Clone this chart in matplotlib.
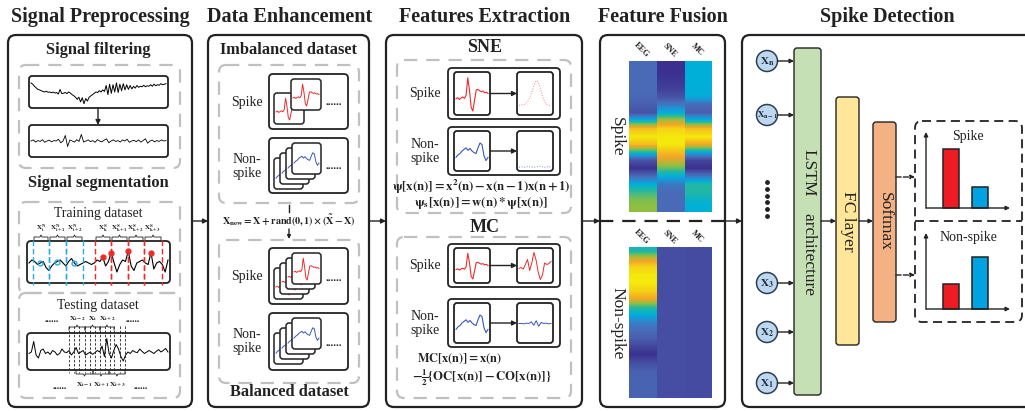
import numpy as np
import matplotlib.pyplot as plt
from matplotlib.patches import FancyBboxPatch, Circle
from matplotlib.colors import LinearSegmentedColormap

plt.rcParams['font.family'] = ['Liberation Serif', 'DejaVu Serif']
plt.rcParams['mathtext.fontset'] = 'stix'

# ---------------- data ----------------
panel_titles = ['Signal Preprocessing', 'Data Enhancement', 'Features Extraction',
                'Feature Fusion', 'Spike Detection']

raw_eeg = [0.85, 0.8, 0.72, 0.66, 0.6, 0.58, 0.55, 0.52, 0.5, 0.53, 0.49, 0.5, 0.47, 0.5, 0.46, 0.48, 0.42, 0.6, 0.44, 0.45,
           0.48, 0.44, 0.5, 0.46, 0.4, 0.36, 0.3, 0.22, 0.3, 0.12, 0.28, 0.05, 0.25, 0.15, 0.3, 0.35, 0.4, 0.45, 0.5, 0.48,
           0.55, 0.5, 0.58, 0.52, 0.75, 0.4, 0.8, 0.45, 0.78, 0.5, 0.85, 0.48, 0.8, 0.55, 0.82, 0.58, 0.78, 0.6, 0.75, 0.62,
           0.72, 0.65, 0.75, 0.68, 0.72, 0.7, 0.76, 0.7, 0.74, 0.72, 0.78, 0.72, 0.8, 0.74, 0.78, 0.76, 0.82, 0.78, 0.8, 0.82]
filt_eeg = [0.5, 0.55, 0.45, 0.52, 0.48, 0.56, 0.44, 0.5, 0.54, 0.46, 0.52, 0.5, 0.58, 0.42, 0.5, 0.75, 0.25, 0.55, 0.5, 0.45,
            0.56, 0.48, 0.8, 0.45, 0.5, 0.55, 0.47, 0.52, 0.44, 0.56, 0.5, 0.46, 0.54, 0.6, 0.42, 0.5, 0.55, 0.48, 0.52, 0.45,
            0.55, 0.5, 0.58, 0.44, 0.5, 0.53, 0.47, 0.55, 0.45, 0.52, 0.6, 0.4, 0.5, 0.54, 0.46, 0.52, 0.48, 0.55, 0.5, 0.52]
train_eeg = [0.5, 0.6, 0.55, 0.45, 0.5, 0.55, 0.35, 0.25, 0.4, 0.5, 0.55, 0.6, 0.5, 0.4, 0.55, 0.65, 0.5, 0.4, 0.45, 0.5,
             0.55, 0.5, 0.45, 0.5, 0.6, 0.55, 0.7, 0.4, 0.55, 0.85, 0.5, 0.2, 0.45, 0.6, 0.55, 0.9, 0.4, 0.25, 0.5, 0.55,
             0.6, 0.5, 0.45, 0.85, 0.3, 0.5, 0.55, 0.45, 0.2, 0.6]
test_eeg = [0.45, 0.5, 0.85, 0.4, 0.3, 0.55, 0.6, 0.45, 0.5, 0.42, 0.55, 0.5, 0.4, 0.45, 0.6, 0.5, 0.48, 0.55, 0.4, 0.5,
            0.65, 0.45, 0.5, 0.55, 0.4, 0.45, 0.5, 0.42, 0.48, 0.55, 0.5, 0.7, 0.35, 0.95, 0.45, 0.3, 0.55, 0.75, 0.6, 0.35,
            0.2, 0.4, 0.5, 0.45, 0.55, 0.5, 0.48, 0.6, 0.52, 0.45, 0.5, 0.55, 0.5, 0.45, 0.52, 0.58, 0.5, 0.55, 0.62, 0.5]

spike_wave = [0.35, 0.38, 0.33, 0.37, 0.4, 0.36, 0.45, 0.95, 0.6, 0.1, 0.0, 0.3, 0.6, 0.62, 0.58, 0.55, 0.57, 0.52, 0.54, 0.5]
nonspike_wave = [0.3, 0.38, 0.42, 0.5, 0.55, 0.6, 0.52, 0.58, 0.5, 0.45, 0.42, 0.6, 0.75, 0.7, 0.35, 0.2, 0.3]
sne_spike = [0.2, 0.22, 0.21, 0.25, 0.3, 0.4, 0.55, 0.72, 0.85, 0.82, 0.65, 0.45, 0.3, 0.22, 0.2, 0.18]
sne_nonspike = [0.05, 0.06, 0.05, 0.07, 0.06, 0.05, 0.06, 0.08, 0.06, 0.05, 0.07, 0.06]
mc_spike = [0.42, 0.45, 0.4, 0.55, 0.72, 0.35, 0.6, 0.95, 0.7, 0.3, 0.05, 0.2, 0.6, 0.55, 0.58, 0.65]
mc_nonspike = [0.5, 0.5, 0.49, 0.51, 0.5, 0.55, 0.45, 0.58, 0.42, 0.53, 0.5, 0.51, 0.49, 0.5]

train_labels_n = [r'X_{i}^{N}', r'X_{i+1}^{N}', r'X_{i+2}^{N}']
train_labels_s = [r'X_{k}^{S}', r'X_{k+1}^{S}', r'X_{k+2}^{S}', r'X_{k+3}^{S}']
test_top_labels = [r'X_{i-2}', r'X_{i}', r'X_{i+2}']
test_bot_labels = [r'X_{i-1}', r'X_{i+1}', r'X_{i+3}']

heat_cols = ['EEG', 'SNE', 'MC']
spike_eeg = [0.25, 0.25, 0.25, 0.25, 0.24, 0.2, 0.15, 0.5, 0.9, 1.0, 0.9, 0.55, 0.15, 0.03, 0.25, 0.47, 0.6, 0.68, 0.7]
spike_sne = [0.03, 0.03, 0.05, 0.08, 0.15, 0.3, 0.47, 0.75, 0.95, 1.0, 1.0, 0.9, 0.8, 0.65, 0.47, 0.3, 0.25, 0.25, 0.25]
spike_mc = [0.47, 0.47, 0.47, 0.47, 0.45, 0.25, 0.2, 0.5, 0.9, 1.0, 0.85, 0.45, 0.1, 0.03, 0.3, 0.57, 0.57, 0.5, 0.47]
nons_eeg = [0.55, 0.8, 0.95, 1.0, 1.0, 0.95, 0.85, 0.6, 0.47, 0.32, 0.25, 0.2, 0.1, 0.03, 0.12, 0.2, 0.22, 0.22, 0.22]
nons_sne = [0.13, 0.13, 0.13, 0.13, 0.13, 0.13, 0.13, 0.13, 0.13, 0.13, 0.13, 0.13, 0.13, 0.13, 0.13, 0.13, 0.13, 0.13, 0.13]
nons_mc = [0.12, 0.12, 0.12, 0.12, 0.12, 0.12, 0.12, 0.12, 0.12, 0.12, 0.12, 0.12, 0.12, 0.12, 0.12, 0.12, 0.12, 0.12, 0.12]

input_labels = [r'X_{n}', r'X_{n-1}', r'X_{3}', r'X_{2}', r'X_{1}']
spike_probs = [0.85, 0.3]
nonspike_probs = [0.36, 0.74]

# ---------------- styles ----------------
DARK = '#222222'
GRAY = '#c0c0c0'
RED = '#ee2a2a'
BLUE = '#3a56c0'
CYAN = '#29abe2'
heat_cmap = LinearSegmentedColormap.from_list('muted_parula', [
    (0.00, (0.22, 0.16, 0.55)), (0.12, (0.27, 0.30, 0.63)), (0.25, (0.29, 0.42, 0.72)),
    (0.40, (0.10, 0.60, 0.85)), (0.47, (0.00, 0.69, 0.85)), (0.57, (0.13, 0.72, 0.65)),
    (0.70, (0.56, 0.75, 0.25)), (0.85, (0.96, 0.65, 0.15)), (1.00, (0.96, 0.91, 0.05))])

fig = plt.figure(figsize=(10.25, 4.11), dpi=100)
ax = fig.add_axes([0, 0, 1, 1])
ax.set_xlim(0, 1025)
ax.set_ylim(411, 0)
ax.axis('off')


def rbox(x0, y0, x1, y1, r=4, ec=DARK, lw=1.3, ls='-', fc='none', z=2):
    p = FancyBboxPatch((x0, y0), x1 - x0, y1 - y0, boxstyle=f'round,pad=0,rounding_size={r}',
                       ec=ec, fc=fc, lw=lw, ls=ls, zorder=z)
    ax.add_patch(p)


def gbox(x0, y0, x1, y1):
    rbox(x0, y0, x1, y1, r=7, ec=GRAY, lw=1.6, ls=(0, (6, 4)), z=1)


def trace(vals, x0, y0, x1, y1, color='k', lw=0.8, ls='-', z=3):
    v = np.asarray(vals)
    xs = np.linspace(x0, x1, len(v))
    ys = y1 - v * (y1 - y0)
    ax.plot(xs, ys, color=color, lw=lw, ls=ls, zorder=z)
    return xs, ys


def arrow(x0, y0, x1, y1, ls='-', lw=1.0, ms=7):
    ax.annotate('', xy=(x1, y1), xytext=(x0, y0),
                arrowprops=dict(arrowstyle='-|>', color=DARK, lw=lw, ls=ls,
                                mutation_scale=ms, shrinkA=0, shrinkB=0), zorder=6)


def stack(xf, yf, w, h, n, dx, dy, vals, color, z0=10):
    for k in range(n - 1, -1, -1):
        x = xf - k * dx
        y = yf + k * dy
        z = z0 + 2 * (n - k)
        rbox(x, y, x + w, y + h, r=3, fc='white', lw=1.1, z=z)
        trace(vals, x + 2, y + 4, x + w - 2, y + h - 4, color, 0.7, z=z + 1)


def brace(x0, x1, y, up=True):
    s = -1 if up else 1
    xm = (x0 + x1) / 2
    ax.plot([x0, x0, xm - 1, xm, xm + 1, x1, x1],
            [y - s * 3, y, y, y + s * 2, y, y, y - s * 3], color=DARK, lw=0.6, zorder=4)


def title(x, s):
    ax.text(x, 17, s, ha='center', va='center', fontsize=14.5, fontweight='bold', color=DARK)


def sub(x, y, s, fs=11.8):
    ax.text(x, y, s, ha='center', va='center', fontsize=fs, fontweight='bold', color=DARK)


def lab(x, y, s, fs=10, **kw):
    ax.text(x, y, s, ha='center', va='center', fontsize=fs, color=DARK, linespacing=1.1, **kw)


# ---------------- panel frames ----------------
frames = [(8, 192), (208, 369), (386, 582), (600, 725), (742, 1040)]
centers = [100, 290, 485, 663, 887]
for (x0, x1), c, t in zip(frames, centers, panel_titles):
    rbox(x0, 35, x1, 407, r=8, lw=1.6)
    title(c, t)
for a, b in [(192, 208), (369, 386), (582, 600), (725, 742)]:
    arrow(a, 221, b, 221)

# ---------------- Signal Preprocessing ----------------
sub(98, 50, 'Signal filtering')
gbox(19, 65, 180, 168)
rbox(29, 76, 168, 108, r=3)
trace(raw_eeg, 31, 79, 166, 105, 'k', 0.7)
arrow(98, 108, 98, 125)
rbox(29, 125, 168, 157, r=3)
trace(filt_eeg, 31, 130, 166, 152, 'k', 0.6)

sub(98, 183, 'Signal segmentation')
gbox(19, 202, 180, 293)
gbox(19, 293, 180, 398)
lab(98, 213, 'Training dataset', fs=9.8)
rbox(27, 241, 170, 283, r=4)
xs, ys = trace(train_eeg, 29, 248, 168, 278, 'k', 0.8)
blue_segs = [(33, 49), (49, 66), (66, 83)]
red_segs = [(95, 111), (111, 128), (128, 144), (144, 162)]
for (a, b), t in zip(blue_segs, train_labels_n):
    ax.plot([a, a], [240, 285], color=CYAN, lw=1.0, ls=(0, (4, 2)), zorder=4)
    ax.plot([b, b], [240, 285], color=CYAN, lw=1.0, ls=(0, (4, 2)), zorder=4)
    brace(a + 1, b - 1, 237)
    ax.text((a + b) / 2, 228, rf'$\mathbf{{{t}}}$', ha='center', va='center', fontsize=5, color=DARK)
    i = np.argmin(np.abs(xs - (a + b) / 2))
    ax.plot(xs[i], ys[i], 'o', ms=3.5, mfc='none', mec=CYAN, mew=1.0, zorder=5)
for (a, b), t in zip(red_segs, train_labels_s):
    ax.plot([a, a], [240, 285], color=RED, lw=1.0, ls=(0, (4, 2)), zorder=4)
    ax.plot([b, b], [240, 285], color=RED, lw=1.0, ls=(0, (4, 2)), zorder=4)
    brace(a + 1, b - 1, 237)
    ax.text((a + b) / 2, 228, rf'$\mathbf{{{t}}}$', ha='center', va='center', fontsize=5, color=DARK)
    m = np.where((xs > a) & (xs < b))[0]
    i = m[np.argmin(ys[m])]
    ax.plot(xs[i], ys[i], 'o', ms=3.5, color=RED, zorder=5)

lab(98, 305, 'Testing dataset', fs=9.8)
rbox(27, 333, 170, 370, r=4)
trace(test_eeg, 29, 337, 168, 367, 'k', 0.7)
for xv in [69, 74, 79, 85, 90, 95, 100, 105, 110, 114, 120, 125]:
    ax.plot([xv, xv], [326, 373], color=DARK, lw=0.6, ls=(0, (3, 2)), zorder=4)
for (a, b), t in zip([(69, 85), (85, 100), (100, 114)], test_top_labels):
    brace(a, b, 327)
    ax.text((a + b) / 2, 319, rf'$\mathbf{{{t}}}$', ha='center', va='center', fontsize=5.4, color=DARK)
for (a, b), t in zip([(76, 93), (93, 109), (109, 125)], test_bot_labels):
    brace(a, b, 374, up=False)
    ax.text((a + b) / 2, 385, rf'$\mathbf{{{t}}}$', ha='center', va='center', fontsize=5.4, color=DARK)
for xv, yv in [(52, 319), (133, 319), (60, 386), (141, 386)]:
    lab(xv, yv, '......', fs=7, fontweight='bold')

# ---------------- Data Enhancement ----------------
sub(289, 50, 'Imbalanced dataset')
gbox(219, 65, 359, 203)
rbox(269, 74, 348, 129, r=4)
stack(291, 79, 30, 31, 2, 17, 14, spike_wave, RED)
lab(247, 102, 'Spike')
lab(334, 102, '......', fs=8, fontweight='bold')
rbox(269, 138, 348, 193, r=4)
stack(292, 143, 29, 31, 4, 6, 5, nonspike_wave, BLUE)
lab(247, 166, 'Non-\nspike')
lab(334, 166, '......', fs=8, fontweight='bold')

ax.plot([289, 289], [205, 212], color=DARK, lw=1.0)
ax.text(289, 220, r'$\mathbf{X_{new} = X + rand(0,1)\times(\tilde{X} - X)}$',
        ha='center', va='center', fontsize=7.3, color=DARK)
arrow(289, 229, 289, 239, ms=5)

gbox(219, 240, 359, 383)
rbox(269, 248, 348, 304, r=4)
stack(292, 253, 29, 31, 4, 6, 5, spike_wave, RED)
lab(247, 276, 'Spike')
lab(334, 278, '......', fs=8, fontweight='bold')
rbox(269, 313, 348, 370, r=4)
stack(292, 318, 29, 31, 4, 6, 5, nonspike_wave, BLUE)
lab(247, 341, 'Non-\nspike')
lab(334, 343, '......', fs=8, fontweight='bold')
sub(289, 392, 'Balanced dataset')

# ---------------- Features Extraction ----------------
sub(485, 47, 'SNE', fs=13)
gbox(397, 60, 571, 213)
sub(485, 227, 'MC', fs=13)
gbox(397, 237, 571, 398)

rows = [(68, 119, spike_wave, sne_spike, RED, ':', 'Spike'),
        (127, 175, nonspike_wave, sne_nonspike, BLUE, ':', 'Non-\nspike'),
        (244, 287, spike_wave, mc_spike, RED, '-', 'Spike'),
        (299, 347, nonspike_wave, mc_nonspike, BLUE, '-', 'Non-\nspike')]
for y0, y1, w_in, w_out, col, ls, name in rows:
    rbox(448, y0, 560, y1, r=4)
    rbox(454, y0 + 4, 490, y1 - 4, r=3)
    rbox(517, y0 + 4, 553, y1 - 4, r=3)
    trace(w_in, 456, y0 + 8, 488, y1 - 8, col, 0.8)
    trace(w_out, 519, y0 + 7, 551, y1 - 6, col if ls == '-' else ('#ff8080' if col == RED else '#6f86d8'), 0.7, ls)
    arrow(490, (y0 + y1) / 2, 517, (y0 + y1) / 2)
    lab(425, (y0 + y1) / 2, name)

ax.text(481, 186.5, r'$\mathbf{\psi[x(n)] = x^2(n) - x(n-1)x(n+1)}$', ha='center', va='center', fontsize=9.2, color=DARK)
ax.text(481, 203, r'$\mathbf{\psi_s[x(n)] = w(n) * \psi[x(n)]}$', ha='center', va='center', fontsize=9.2, color=DARK)
ax.text(417, 359, r'$\mathbf{MC[x(n)] = x(n)}$', ha='left', va='center', fontsize=8.8, color=DARK)
ax.text(412, 378, r'$\mathbf{-\frac{1}{2}\{OC[x(n)] - CO[x(n)]\}}$', ha='left', va='center', fontsize=9.2, color=DARK)

# ---------------- Feature Fusion ----------------
col_x = [629, 657, 685, 712]
for cols, y0, y1, ly, name in [((spike_eeg, spike_sne, spike_mc), 62, 212, 50, 'Spike'),
                               ((nons_eeg, nons_sne, nons_mc), 248, 398, 237, 'Non-spike')]:
    for k, vals in enumerate(cols):
        img = np.column_stack([vals, vals])
        ax.imshow(img, cmap=heat_cmap, vmin=0, vmax=1, aspect='auto', interpolation='bilinear',
                  extent=(col_x[k], col_x[k + 1], y1, y0), zorder=2)
        ax.text((col_x[k] + col_x[k + 1]) / 2 - 1, ly, heat_cols[k], rotation=-45, ha='center', va='center',
                fontsize=6, fontweight='bold', color=DARK)
    lab(617, (y0 + y1) / 2, name, fs=12.5, rotation=270)
ax.plot([600, 725], [221, 221], color=DARK, lw=1.6, ls=(0, (6, 4)), zorder=3)

# ---------------- Spike Detection ----------------
circle_y = [61, 115, 283, 332, 383]
for cy, t in zip(circle_y, input_labels):
    ax.add_patch(Circle((767, cy), 10.5, fc='#bdd7ee', ec='#2e3f55', lw=1.1, zorder=4))
    ax.text(767, cy + 0.5, rf'$\mathbf{{{t}}}$', ha='center', va='center',
            fontsize=6.3 if len(t) > 5 else 8, color='#1f2d40', zorder=5)
    arrow(777.5, cy, 794, cy, ms=6)
ax.scatter(np.full(6, 767), np.linspace(182, 216, 6), s=6, color=DARK, zorder=4)

rbox(794, 48, 821, 395, r=3, fc='#c5e0b4', lw=1.0)
lab(809, 222, 'LSTM    architecture', fs=12.5, rotation=270)
rbox(836, 97, 859, 345, r=3, fc='#ffe699', lw=1.0)
lab(848, 221, 'FC layer', fs=12.5, rotation=270)
rbox(873, 122, 896, 322, r=3, fc='#f4b183', lw=1.0)
lab(885, 221, 'Softmax', fs=12.5, rotation=270)
arrow(821, 221, 836, 221, ms=6)
arrow(859, 221, 873, 221, ms=6)
arrow(896, 177, 915, 177, ls='--', ms=6)
arrow(896, 275, 915, 275, ls='--', ms=6)

rbox(915, 121, 1022, 322, r=7, lw=1.3, ls=(0, (5, 3)))
ax.plot([915, 1022], [221, 221], color=DARK, lw=1.3, ls=(0, (5, 3)), zorder=3)

for oy, top, probs, name in [(208, 132, spike_probs, 'Spike'), (309, 233, nonspike_probs, 'Non-spike')]:
    arrow(926, oy, 926, top, ms=6)
    arrow(926, oy, 1010, oy, ms=6)
    ax.bar([951, 980], [-p * 70 for p in probs], bottom=oy, width=16,
           color=['#ed1c24', '#00a2e0'], edgecolor=DARK, linewidth=1.1, zorder=4)
    lab(968, top + 4, name, fs=10)

fig.savefig('out.png', dpi=100)
